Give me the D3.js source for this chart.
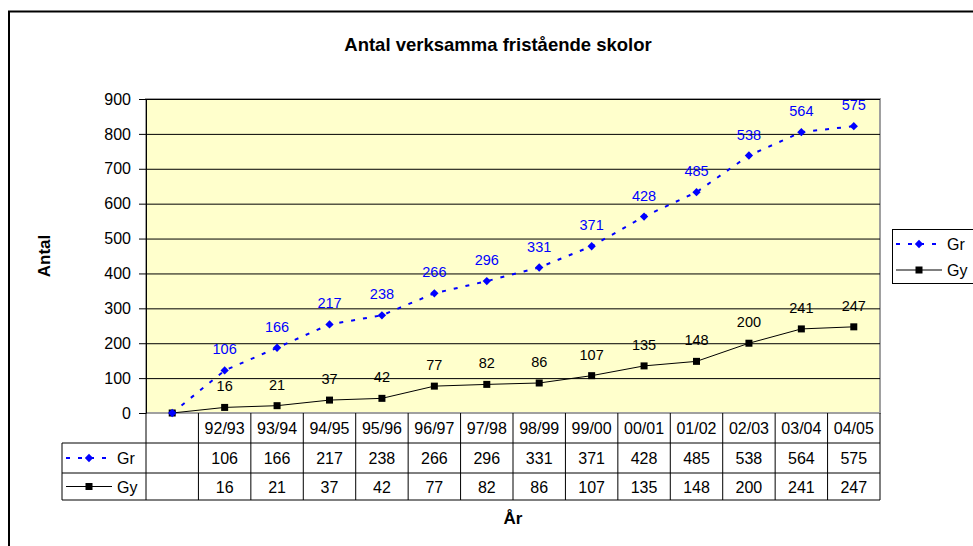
<!DOCTYPE html>
<html>
<head>
<meta charset="utf-8">
<script src="https://cdn.jsdelivr.net/npm/d3@7"></script>
<style>
  body { margin: 0; background: #fff; }
  svg { display: block; font-family: "Liberation Sans", Arial, sans-serif; }
</style>
</head>
<body>
<div id="chart"></div>
<script>
// data (Gr is drawn stacked on top of Gy)
const years = ["", "92/93", "93/94", "94/95", "95/96", "96/97", "97/98", "98/99", "99/00", "00/01", "01/02", "02/03", "03/04", "04/05"];
const gr = [0, 106, 166, 217, 238, 266, 296, 331, 371, 428, 485, 538, 564, 575];
const gy = [0, 16, 21, 37, 42, 77, 82, 86, 107, 135, 148, 200, 241, 247];
const yTicks = [0, 100, 200, 300, 400, 500, 600, 700, 800, 900];
const seriesNames = ["Gr", "Gy"];

const W = 973, H = 546;
const plot = { left: 146, right: 880, top: 99, bottom: 413 };
const rowH = [30, 30, 27];
const tableLeft = 62;
const blue = "#0000ff";

const svg = d3.select("#chart").append("svg").attr("width", W).attr("height", H);

// outer chart frame (only top and left visible)
svg.append("path")
  .attr("d", `M9,${H + 5} V11.5 H${W + 5}`)
  .attr("fill", "none").attr("stroke", "#000").attr("stroke-width", 2);

svg.append("text").attr("x", 498).attr("y", 51)
  .attr("text-anchor", "middle").attr("font-weight", "bold").attr("font-size", 18.5)
  .text("Antal verksamma fristående skolor");

const x = d3.scaleBand().domain(d3.range(years.length)).range([plot.left, plot.right]);
const y = d3.scaleLinear().domain([0, 900]).range([plot.bottom, plot.top]);
const cx = i => x(i) + x.bandwidth() / 2;

// plot area
svg.append("rect")
  .attr("x", plot.left).attr("y", plot.top)
  .attr("width", plot.right - plot.left).attr("height", plot.bottom - plot.top)
  .attr("fill", "#ffffcc").attr("stroke", "#a0a0a0").attr("stroke-width", 2);

// grid lines
svg.append("g")
  .attr("transform", `translate(${plot.left},0)`)
  .call(d3.axisLeft(y).tickValues(yTicks.slice(1)).tickSize(-(plot.right - plot.left)).tickFormat(""))
  .call(g => g.select(".domain").remove())
  .selectAll("line").attr("stroke", "#000").attr("stroke-width", 1);

// y axis
const gy_ = svg.append("g")
  .attr("transform", `translate(${plot.left},0)`)
  .call(d3.axisLeft(y).tickValues(yTicks).tickSize(7).tickPadding(8).tickSizeOuter(0));
gy_.selectAll("text").attr("font-size", 16).attr("fill", "#000").attr("font-family", "Liberation Sans, Arial, sans-serif");
gy_.selectAll("line, path").attr("stroke", "#000");

svg.append("text")
  .attr("transform", "translate(50,256) rotate(-90)")
  .attr("text-anchor", "middle").attr("font-weight", "bold").attr("font-size", 17)
  .text("Antal");

// series
const grStack = gr.map((v, i) => v + gy[i]);

const line = d3.line().x((d, i) => cx(i)).y(d => y(d));

svg.append("path").datum(gy)
  .attr("d", line).attr("fill", "none").attr("stroke", "#000").attr("stroke-width", 1);
svg.append("path").datum(grStack)
  .attr("d", line).attr("fill", "none").attr("stroke", blue).attr("stroke-width", 2)
  .attr("stroke-dasharray", "4,8");

svg.append("g").selectAll("rect").data(gy).join("rect")
  .attr("x", (d, i) => cx(i) - 3.5).attr("y", d => y(d) - 3.5)
  .attr("width", 7).attr("height", 7).attr("fill", "#000");

const diamond = d3.symbol().type(d3.symbolDiamond2).size(44);
svg.append("g").selectAll("path").data(grStack).join("path")
  .attr("transform", (d, i) => `translate(${cx(i)},${y(d)})`)
  .attr("d", diamond).attr("fill", blue);

// data labels
svg.append("g").selectAll("text").data(gy).join("text")
  .attr("x", (d, i) => cx(i)).attr("y", d => y(d) - 16)
  .attr("text-anchor", "middle").attr("font-size", 14.5).attr("fill", "#000")
  .text((d, i) => years[i] ? d : "");
svg.append("g").selectAll("text").data(gr).join("text")
  .attr("x", (d, i) => cx(i)).attr("y", (d, i) => y(grStack[i]) - 16)
  .attr("text-anchor", "middle").attr("font-size", 14.5).attr("fill", blue)
  .text((d, i) => years[i] ? d : "");

// data table
const t = svg.append("g").attr("stroke", "#000").attr("stroke-width", 1);
const r0 = plot.bottom, r1 = r0 + rowH[0], r2 = r1 + rowH[1], r3 = r2 + rowH[2];
t.append("line").attr("x1", tableLeft).attr("x2", plot.right).attr("y1", r1).attr("y2", r1);
t.append("line").attr("x1", tableLeft).attr("x2", plot.right).attr("y1", r2).attr("y2", r2);
t.append("line").attr("x1", tableLeft).attr("x2", plot.right).attr("y1", r3).attr("y2", r3);
t.append("line").attr("x1", tableLeft).attr("x2", tableLeft).attr("y1", r1).attr("y2", r3);
t.selectAll(".v").data(d3.range(years.length + 1)).join("line")
  .attr("x1", i => i < years.length ? x(i) : plot.right)
  .attr("x2", i => i < years.length ? x(i) : plot.right)
  .attr("y1", r0).attr("y2", r3);

const cellText = (vals, yy) => svg.append("g").selectAll("text").data(vals).join("text")
  .attr("x", (d, i) => cx(i)).attr("y", yy)
  .attr("text-anchor", "middle").attr("font-size", 16).attr("fill", "#000")
  .text((d, i) => years[i] ? d : "");
cellText(years, r0 + 21);
cellText(gr, r1 + 21);
cellText(gy, r2 + 19.5);

// legend keys (table and box)
function key(g, name, kx, ky) {
  if (name === "Gr") {
    g.append("line").attr("x1", kx).attr("x2", kx + 46).attr("y1", ky).attr("y2", ky)
      .attr("stroke", blue).attr("stroke-width", 2).attr("stroke-dasharray", "4,8");
    g.append("path").attr("transform", `translate(${kx + 23},${ky})`).attr("d", diamond).attr("fill", blue);
  } else {
    g.append("line").attr("x1", kx).attr("x2", kx + 46).attr("y1", ky).attr("y2", ky)
      .attr("stroke", "#000").attr("stroke-width", 1);
    g.append("rect").attr("x", kx + 19.5).attr("y", ky - 3.5).attr("width", 7).attr("height", 7).attr("fill", "#000");
  }
  g.append("text").attr("x", kx + 51).attr("y", ky + 6).attr("font-size", 16).attr("fill", "#000").text(name);
}
const tk = svg.append("g");
seriesNames.forEach((n, i) => key(tk, n, 66, (i === 0 ? r1 : r2) + rowH[i + 1] / 2));

const lg = svg.append("g");
lg.append("rect").attr("x", 892.5).attr("y", 229.5).attr("width", 100).attr("height", 54)
  .attr("fill", "#fff").attr("stroke", "#000");
seriesNames.forEach((n, i) => key(lg, n, 896, 244 + i * 26));

svg.append("text").attr("x", 513).attr("y", 524)
  .attr("text-anchor", "middle").attr("font-weight", "bold").attr("font-size", 17)
  .text("År");
</script>
</body>
</html>
